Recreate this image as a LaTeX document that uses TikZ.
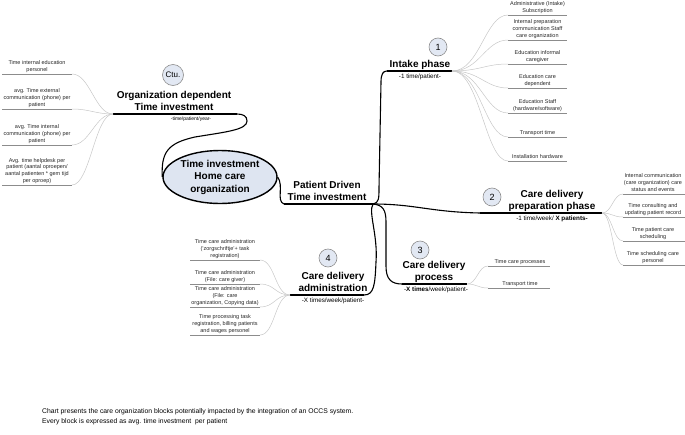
\documentclass[tikz,border=0pt]{standalone}
\usepackage{fontspec}
\setmainfont{Liberation Sans}
\usetikzlibrary{shapes.geometric}
\definecolor{numfill}{RGB}{226,232,243}
\definecolor{hubfill}{RGB}{222,229,241}
\begin{document}
\begin{tikzpicture}[x=1pt,y=-1pt,
  leaf/.style={font=\fontsize{5.5}{6.6}\selectfont, align=center, inner sep=0pt, anchor=south, text=black!85, execute at end node={\strut}},
  mainlbl/.style={font=\fontsize{10}{12}\selectfont\bfseries, align=center, inner sep=0pt, anchor=south, execute at end node={\strut}},
  sublbl/.style={font=\fontsize{6.3}{7}\selectfont, inner sep=0pt, anchor=north},
  numc/.style={circle, draw=black!45, fill=numfill, line width=0.6pt, minimum size=18pt, inner sep=0pt, font=\fontsize{9}{10}\selectfont},
  conn/.style={line width=1.1pt, black},
  uline/.style={line width=1.7pt, black},
  twig/.style={draw=black!22, line width=0.5pt},
  lline/.style={draw=black!45, line width=0.9pt}
]
\useasboundingbox (0,0) rectangle (685,434);

% central ellipse
\node[ellipse, draw, line width=1.4pt, fill=hubfill, minimum width=114pt, minimum height=53pt, inner sep=0pt,
      font=\fontsize{10}{12.5}\selectfont\bfseries, align=center] (center) at (220,177) {Time investment\\Home care\\organization};

% named coordinates for underline ends
\coordinate (orgL) at (113,114); \coordinate (orgR) at (237,114);
\coordinate (pdL) at (284,204);  \coordinate (hubp) at (373,204);
\coordinate (inL) at (387,71);   \coordinate (inR) at (452,71);
\coordinate (prL) at (480,213);  \coordinate (prR) at (602,213);
\coordinate (pcL) at (402,284);  \coordinate (pcR) at (467,284);
\coordinate (adL) at (290,295);  \coordinate (adR) at (364,295);

% labels
\node[numc, minimum size=21pt, font=\fontsize{8}{9}\selectfont] (ctu) at (173,75) {Ctu.};
\node[mainlbl] (org) at (174,114) {Organization dependent\\Time investment};
\node[sublbl, font=\fontsize{5}{6}\selectfont] (orgsub) at (191,117) {-time/patient/year-};

\node[mainlbl] (pd) at (327,204) {Patient Driven\\Time investment};

\node[numc] (n1) at (438,47) {1};
\node[mainlbl] (intake) at (420,71) {Intake phase};
\node[sublbl] (intakesub) at (420,74) {-1 time/patient-};

\node[numc] (n2) at (492,197) {2};
\node[mainlbl] (prep) at (552,213) {Care delivery\\preparation phase};
\node[sublbl] (prepsub) at (552,215.5) {-1 time/week/ \textbf{X patients-}};

\node[numc] (n3) at (420,250) {3};
\node[mainlbl] (proc) at (434,284) {Care delivery\\process};
\node[sublbl] (procsub) at (436,286.5) {-\textbf{X times}/week/patient-};

\node[numc] (n4) at (328,258) {4};
\node[mainlbl] (adm) at (333,295) {Care delivery\\administration};
\node[sublbl] (admsub) at (333,297.5) {-X times/week/patient-};

% main connectors
\draw[conn] (center.west) .. controls (161,152) and (168,143) .. (195,137)
            .. controls (225,132) and (247,130) .. (247,121)
            .. controls (247,116) and (243,114) .. (orgR);
\draw[uline] (orgL) -- (orgR);
\draw[conn] (center.east) .. controls (284,186) and (276,201) .. (pdL);
\draw[uline] (pdL) -- (hubp);
\draw[conn] (hubp) .. controls (379,203) and (379,198) .. (379,188) -- (381,82)
            .. controls (381,74) and (383,71) .. (inL);
\draw[uline] (inL) -- (inR);
\draw[conn] (hubp) .. controls (415,204) and (430,212) .. (prL);
\draw[uline, line width=2.3pt] (prL) -- (prR);
\draw[conn] (hubp) .. controls (383,205) and (386,210) .. (386,222) -- (386,266)
            .. controls (386,279) and (391,284) .. (pcL);
\draw[uline] (pcL) -- (pcR);
\draw[conn] (hubp) .. controls (368,212) and (378,235) .. (376,262)
            .. controls (375,285) and (374,295) .. (adR);
\draw[uline] (adL) -- (adR);

% intake leaves
\foreach \i/\yu/\t in {1/15/{Administrative (Intake)\\Subscription},
  2/40/{Internal preparation\\communication Staff\\care organization},
  3/64/{Education informal\\caregiver},
  4/88/{Education care\\dependent},
  5/113/{Education Staff\\(hardware/software)},
  6/137/{Transport time},
  7/161/{Installation hardware}}{
  \coordinate (ia\i) at (508,\yu); \coordinate (ib\i) at (567,\yu);
  \draw[lline] (ia\i) -- (ib\i);
  \draw[twig] (inR) .. controls (480,71) and (485,\yu) .. (ia\i);
  \node[leaf] (il\i) at (537.5,\yu-0.8) {\t};
}

% organization leaves
\foreach \i/\yu/\t in {1/74/{Time internal education\\personel},
  2/109/{avg. Time external\\communication (phone) per\\patient},
  3/145/{avg. Time internal\\communication (phone) per\\patient},
  4/185/{Avg. time helpdesk per\\patient (aantal oproepen/\\aantal patienten * gem tijd\\per oproep)}}{
  \coordinate (oa\i) at (72,\yu); \coordinate (ob\i) at (2,\yu);
  \draw[lline] (ob\i) -- (oa\i);
  \draw[twig] (orgL) .. controls (95,114) and (90,\yu) .. (oa\i);
  \node[leaf] (ol\i) at (37,\yu-0.8) {\t};
}

% administration leaves
\foreach \i/\yu/\t in {1/260/{Time care administration\\('zorgschriftje'+ task\\registration)},
  2/284/{Time care administration\\(File: care giver)},
  3/307/{Time care administration\\(File: care\\organization, Copying data)},
  4/335/{Time processing task\\registration, billing patients\\and wages personel}}{
  \coordinate (aa\i) at (260,\yu); \coordinate (ab\i) at (190,\yu);
  \draw[lline] (ab\i) -- (aa\i);
  \draw[twig] (adL) .. controls (275,295) and (275,\yu) .. (aa\i);
  \node[leaf] (al\i) at (225,\yu-0.8) {\t};
}

% preparation leaves
\foreach \i/\yu/\t in {1/194/{Internal communication\\(care organization) care\\status and events},
  2/217/{Time consulting and\\updating patient record},
  3/241/{Time patient care\\scheduling},
  4/265/{Time scheduling care\\personel}}{
  \coordinate (pa\i) at (623,\yu); \coordinate (pb\i) at (685,\yu);
  \draw[lline] (pa\i) -- (pb\i);
  \draw[twig] (prR) .. controls (612,213) and (613,\yu) .. (pa\i);
  \node[leaf] (pl\i) at (653,\yu-0.8) {\t};
}

% process leaves
\foreach \i/\yu/\t in {1/266/{Time care processes}, 2/288/{Transport time}}{
  \coordinate (qa\i) at (488,\yu); \coordinate (qb\i) at (550,\yu);
  \draw[lline] (qa\i) -- (qb\i);
  \draw[twig] (pcR) .. controls (477,284) and (478,\yu) .. (qa\i);
  \node[leaf] (ql\i) at (520,\yu-0.8) {\t};
}

% note
\node[anchor=north west, inner sep=0pt, align=left, font=\fontsize{6.8}{10}\selectfont] (note) at (42,408)
  {Chart presents the care organization blocks potentially impacted by the integration of an OCCS system.\\
   Every block is expressed as avg. time investment\ \ per patient};
\end{tikzpicture}
\end{document}
